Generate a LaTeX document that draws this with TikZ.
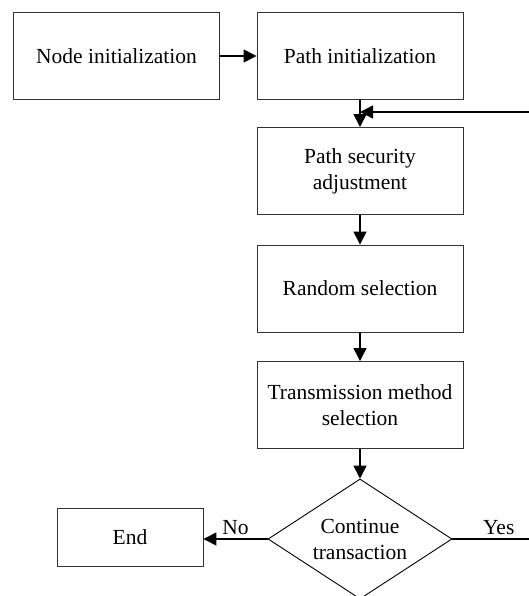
\documentclass[tikz,border=0pt]{standalone}
\usepackage{fontspec}
\setmainfont{Liberation Serif}
\usetikzlibrary{arrows.meta,positioning,shapes.geometric}
\tikzset{
  stepbox/.style={draw=black!80,line width=0.9pt,minimum width=206pt,minimum height=87pt,align=center,inner sep=2pt},
  decbox/.style={diamond,draw=black,line width=0.9pt,minimum width=184pt,minimum height=120pt,align=center,inner sep=0pt,aspect=1.53},
  flow/.style={-{Triangle[length=13pt,width=13pt]},line width=1.4pt}
}
\begin{document}
\begin{tikzpicture}[x=1pt,y=-1pt,font=\fontsize{21.5}{26}\selectfont]
  \useasboundingbox (0,0) rectangle (529,596);
  \node[stepbox] (init) at (116.5,56) {Node initialization};
  \node[stepbox] (pinit) at (360,56) {Path initialization};
  \node[stepbox] (psec) at (360,171) {Path security\\adjustment};
  \node[stepbox] (rsel) at (360,288.5) {Random selection};
  \node[stepbox] (tsel) at (360,405) {Transmission method\\selection};
  \node[decbox] (cont) at (360,539) {Continue\\transaction};
  \node[stepbox,minimum width=146pt,minimum height=58pt] (endn) at (130,537) {End};
  \coordinate (join) at (360,112);
  \coordinate (loop) at (545,539);
  % main flow
  \draw[flow] (init) -- (pinit);
  \draw[flow] (pinit) -- (psec);
  \draw[flow] (psec) -- (rsel);
  \draw[flow] (rsel) -- (tsel);
  \draw[flow] (tsel) -- (cont);
  \draw[flow] (cont.west) -- (endn.east |- cont.west) node[midway,above] {No};
  % back to the top
  \draw[flow] (cont.east) -- (loop) node[pos=0.5,above] {Yes} |- (join);
\end{tikzpicture}
\end{document}
